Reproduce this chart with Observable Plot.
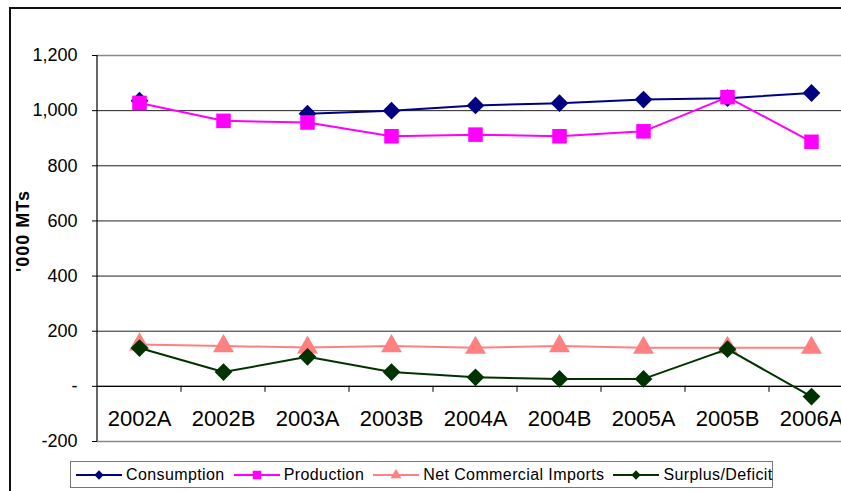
<!DOCTYPE html>
<html>
<head>
<meta charset="utf-8">
<script src="https://cdn.jsdelivr.net/npm/d3@7"></script>
<script src="https://cdn.jsdelivr.net/npm/@observablehq/plot@0.6"></script>
<style>
  html, body { margin: 0; padding: 0; background: #fff; }
  #page { position: relative; width: 841px; height: 491px; overflow: hidden; background: #fff;
          font-family: "Liberation Sans", Arial, sans-serif; }
  #border { position: absolute; left: 9px; top: 7px; width: 900px; height: 600px;
            border: 2px solid #111; box-sizing: border-box; }
  #chart { position: absolute; left: 0; top: 0; width: 870px; }
  #chart svg { max-width: none !important; }
  #ylabel { position: absolute; left: 23px; top: 231px; transform: translate(-50%, -50%) rotate(-90deg);
            font-weight: bold; font-size: 18px; letter-spacing: 1px; white-space: nowrap; color: #000; }
  #legend { position: absolute; left: 70px; top: 461px; width: 703px; height: 27px;
            border: 1.5px solid #777; box-sizing: border-box; display: flex; align-items: center;
            padding-left: 5px; background: #fff; white-space: nowrap; }
  .item { display: flex; align-items: center; margin-right: 9px; flex-shrink: 0; }
  .item svg { flex-shrink: 0; }
  .item span { font-size: 16px; letter-spacing: 0.4px; margin-left: 4px; color: #000; white-space: nowrap; }
</style>
</head>
<body>
<div id="page">
  <div id="border"></div>
  <div id="chart"></div>
  <div id="ylabel"></div>
  <div id="legend"></div>
</div>
<script>
const categories = ["2002A", "2002B", "2003A", "2003B", "2004A", "2004B", "2005A", "2005B", "2006A"];
const consumption = [1036, null, 989, 1000, 1019, 1027, 1040, 1045, 1064];
const production = [1028, 963, 957, 907, 913, 907, 925, 1049, 887];
const netImports = [152, 146, 141, 146, 140, 146, 140, 140, 140];
const surplus = [139, 52, 107, 52, 33, 27, 27, 135, -37];
const yTicks = [-200, 0, 200, 400, 600, 800, 1000, 1200];
const yLabel = "'000 MTs";

const series = [
  {name: "Consumption", values: consumption, color: "#000080", symbol: "diamond2", r: 8, lr: 4.2},
  {name: "Production", values: production, color: "#FF00FF", symbol: "square", r: 8.2, lr: 4.8},
  {name: "Net Commercial Imports", values: netImports, color: "#FF8080", symbol: "triangle2", r: 10, lr: 5.2},
  {name: "Surplus/Deficit", values: surplus, color: "#003300", symbol: "diamond2", r: 8, lr: 4.2}
];

const rows = series.flatMap(s => s.values.map((v, i) => ({series: s.name, i, cat: categories[i], value: v})));
const boundaries = categories.slice(1).map((_, i) => i + 0.5);

function decor(index, scales, values, dims) {
  const g = d3.create("svg:g");
  const y0 = scales.y(0);
  g.append("line")
    .attr("x1", dims.marginLeft).attr("x2", dims.marginLeft)
    .attr("y1", dims.marginTop).attr("y2", dims.height - dims.marginBottom)
    .attr("stroke", "#000").attr("stroke-width", 1.2);
  for (const b of boundaries) {
    g.append("line")
      .attr("x1", scales.x(b)).attr("x2", scales.x(b))
      .attr("y1", y0).attr("y2", y0 + 6)
      .attr("stroke", "#000").attr("stroke-width", 1);
  }
  return g.node();
}

const fmt = d => d === 0 ? "-" : d3.format(",")(d).replace("\u2212", "-");

const marks = [
  Plot.ruleY(yTicks.filter(v => v !== -200 && v !== 1200), {stroke: "#222", strokeWidth: 1}),
  Plot.ruleY([-200, 1200], {stroke: "#888", strokeWidth: 1.5}),
  Plot.ruleY([0], {stroke: "#000", strokeWidth: 1.2}),
  decor,
  Plot.text(categories, {x: (d, i) => i, y: () => 0, dy: 33, text: d => d, fontSize: 22, fill: "#000"})
];
for (const s of series) {
  const data = rows.filter(r => r.series === s.name);
  marks.push(Plot.line(data, {x: "i", y: "value", stroke: s.color, strokeWidth: 2}));
  marks.push(Plot.dot(data.filter(d => d.value != null), {x: "i", y: "value", symbol: () => s.symbol, r: s.r, fill: s.color, stroke: "none"}));
}

const chart = Plot.plot({
  width: 870,
  height: 450,
  marginLeft: 97,
  marginRight: 17,
  marginTop: 55,
  marginBottom: 9,
  style: {fontFamily: "'Liberation Sans', Arial, sans-serif", fontSize: "18px", background: "transparent", color: "#000", maxWidth: "none"},
  x: {type: "linear", domain: [-0.5, 8.5], axis: null},
  y: {domain: [-200, 1200], ticks: yTicks, tickSize: 5, tickPadding: 15,
      tickFormat: fmt, label: null},
  symbol: {type: "identity"},
  marks
});
chart.style.maxWidth = "none";
chart.setAttribute("width", 870);
document.getElementById("chart").appendChild(chart);
document.getElementById("ylabel").textContent = yLabel;

// legend
const legend = document.getElementById("legend");
for (const s of series) {
  const item = document.createElement("div");
  item.className = "item";
  const sym = d3.symbol(d3["symbol" + {diamond2: "Diamond2", square: "Square", triangle2: "Triangle2"}[s.symbol]], Math.PI * s.lr * s.lr)();
  item.innerHTML = `<svg width="46" height="14"><line x1="0" x2="46" y1="7" y2="7" stroke="${s.color}" stroke-width="2"/><path d="${sym}" transform="translate(23,7)" fill="${s.color}"/></svg><span>${s.name}</span>`;
  legend.appendChild(item);
}
</script>
</body>
</html>
